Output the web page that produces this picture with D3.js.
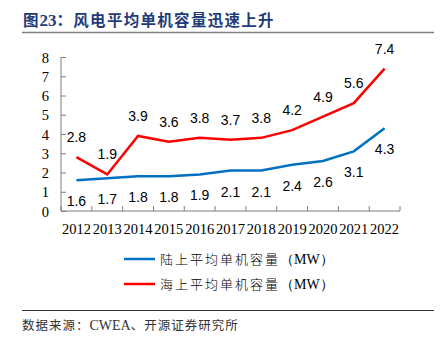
<!DOCTYPE html>
<html><head><meta charset="utf-8">
<script src="https://cdn.jsdelivr.net/npm/d3@7"></script>
<style>body{margin:0;background:#fff}svg{display:block}</style>
</head><body>
<script>
const categories = ["2012","2013","2014","2015","2016","2017","2018","2019","2020","2021","2022"];
const onshore = [1.6,1.7,1.8,1.8,1.9,2.1,2.1,2.4,2.6,3.1,4.3];
const offshore = [2.8,1.9,3.9,3.6,3.8,3.7,3.8,4.2,4.9,5.6,7.4];
const yTicks = [0,1,2,3,4,5,6,7,8];
const seriesNames = ["陆上平均单机容量","海上平均单机容量"];
const unit = "（MW）";
const titleParts = ["图","23","：风电平均单机容量迅速上升"];
const source = "数据来源：CWEA、开源证券研究所";

const W=446,H=343;
const svg=d3.select("body").append("svg").attr("width",W).attr("height",H);
const serif="Liberation Serif";
const cjk="Noto Sans CJK SC";

const tt=svg.append("text").attr("x",23).attr("y",26).attr("fill","#1f3b78")
  .attr("font-weight","bold").style("font-size","15.5px");
tt.append("tspan").style("font-family",cjk).attr("letter-spacing",1).text(titleParts[0]);
tt.append("tspan").style("font-family",serif).style("font-size","17px").text(titleParts[1]);
tt.append("tspan").style("font-family",cjk).attr("letter-spacing",1.3).text(titleParts[2]);
svg.append("line").attr("x1",22).attr("x2",434).attr("y1",32.5).attr("y2",32.5)
  .attr("stroke","#808080").attr("stroke-width",1.5);

const x=d3.scaleBand().domain(categories).range([61,400]);
const y=d3.scaleLinear().domain([0,8]).range([211,57]);

// y axis
const ya=svg.append("g").attr("transform","translate(61,0)")
  .call(d3.axisRight(y).tickValues(yTicks).tickSize(5).tickFormat(d3.format("d")));
ya.attr("font-family",null).attr("font-size",null);
ya.select(".domain").attr("d","M0,57V211").attr("stroke","#7f7f7f");
ya.selectAll(".tick line").attr("stroke","#7f7f7f");
ya.selectAll(".tick text").attr("x",-12).attr("dy","0.35em").attr("text-anchor","end")
  .style("font-family",serif).style("font-size","14.5px").attr("fill","#000");

// x axis
const xa=svg.append("g").attr("transform","translate(0,211)")
  .call(d3.axisTop(x).tickSize(0).tickFormat(""));
xa.select(".domain").attr("d","M61,0H400").attr("stroke","#7f7f7f");
const bounds=categories.map(c=>x(c)).concat([x.range()[1]]);
xa.selectAll("line.b").data(bounds).join("line").attr("class","b")
  .attr("x1",d=>d).attr("x2",d=>d).attr("y1",0).attr("y2",-5).attr("stroke","#7f7f7f");
svg.append("g").selectAll("text").data(categories).join("text")
  .attr("x",d=>x(d)+x.bandwidth()/2).attr("y",234).attr("text-anchor","middle")
  .style("font-family",serif).style("font-size","14.5px").text(d=>d);

const cx=(d,i)=>x(categories[i])+x.bandwidth()/2;
const line=d3.line().x(cx).y(d=>y(d));
svg.append("path").datum(onshore).attr("d",line).attr("fill","none")
  .attr("stroke","#0070c0").attr("stroke-width",2.5);
svg.append("path").datum(offshore).attr("d",line).attr("fill","none")
  .attr("stroke","#ff0000").attr("stroke-width",2.5);

const lab="Liberation Sans";
svg.append("g").selectAll("text").data(onshore).join("text")
  .attr("x",cx).attr("y",d=>y(d)+26).attr("text-anchor","middle")
  .style("font-family",lab).style("font-size","14px").text(d=>d.toFixed(1));
svg.append("g").selectAll("text").data(offshore).join("text")
  .attr("x",cx).attr("y",d=>y(d)-15).attr("text-anchor","middle")
  .style("font-family",lab).style("font-size","14px").text(d=>d.toFixed(1));

// legend
const colors=["#0070c0","#ff0000"];
seriesNames.forEach((n,i)=>{
  const ly=259+i*25;
  svg.append("line").attr("x1",124).attr("x2",155).attr("y1",ly).attr("y2",ly)
    .attr("stroke",colors[i]).attr("stroke-width",2.5);
  const t=svg.append("text").attr("x",160).attr("y",ly+5)
    .style("font-size","13px").attr("fill","#000");
  t.append("tspan").style("font-family",cjk).attr("font-weight",300).attr("letter-spacing",2).text(n);
  t.append("tspan").style("font-family",serif).style("font-size","14px").text(unit);
});

svg.append("line").attr("x1",22).attr("x2",434).attr("y1",310.5).attr("y2",310.5)
  .attr("stroke","#333").attr("stroke-width",1);
const s=svg.append("text").attr("x",22).attr("y",330).attr("fill","#333").style("font-size","12.5px");
s.append("tspan").style("font-family",cjk).attr("letter-spacing",1).text("数据来源：");
s.append("tspan").style("font-family",serif).style("font-size","14px").text("CWEA");
s.append("tspan").style("font-family",cjk).attr("letter-spacing",1).text("、开源证券研究所");
</script>
</body></html>
